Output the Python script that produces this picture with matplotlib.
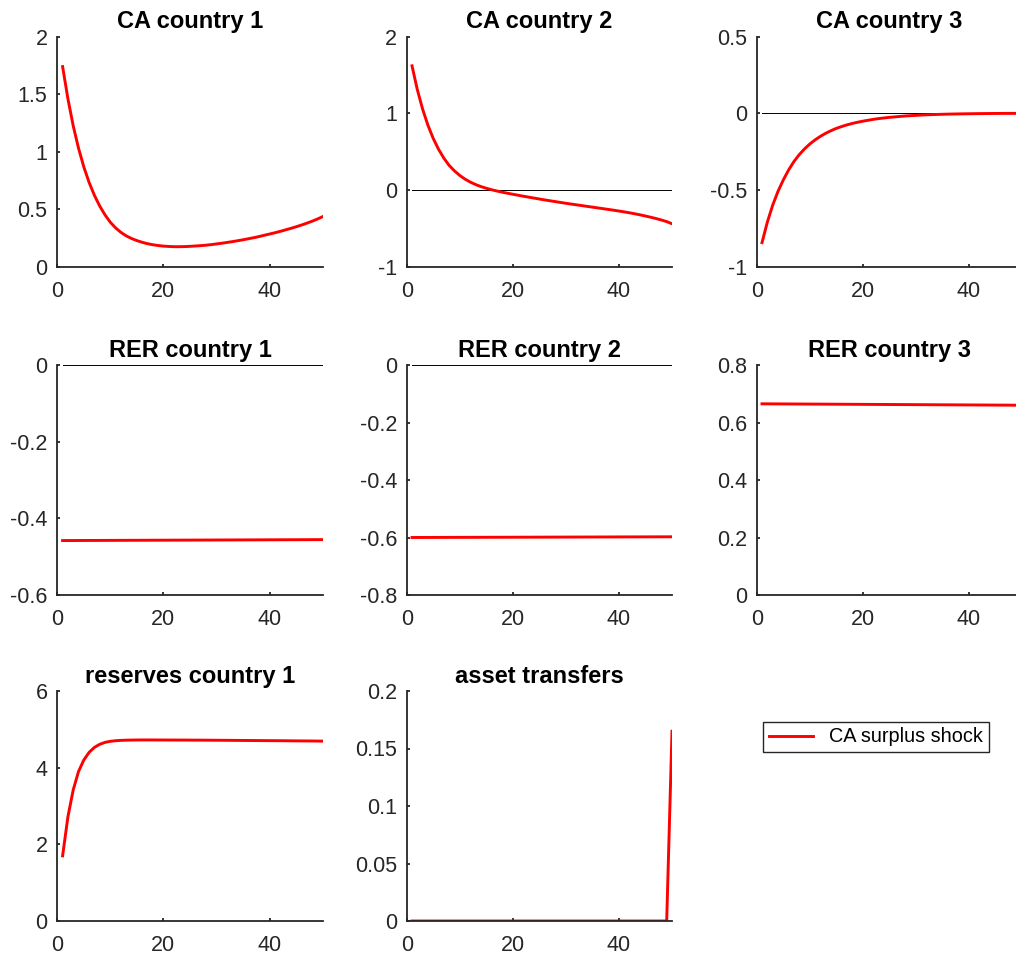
import numpy as np
import matplotlib
matplotlib.use('Agg')
import matplotlib.pyplot as plt
from matplotlib.ticker import FuncFormatter

# impulse responses, periods 1..50
periods = list(range(1, 51))

ca1 = [1.74, 1.46, 1.225, 1.03, 0.867, 0.732, 0.62, 0.527, 0.45, 0.386,
       0.337, 0.298, 0.268, 0.245, 0.227, 0.212, 0.200, 0.191, 0.184, 0.179,
       0.176, 0.174, 0.174, 0.175, 0.177, 0.180, 0.183, 0.187, 0.192, 0.198,
       0.204, 0.211, 0.218, 0.226, 0.234, 0.243, 0.252, 0.262, 0.273, 0.284,
       0.295, 0.307, 0.320, 0.333, 0.347, 0.362, 0.378, 0.395, 0.414, 0.435]

ca2 = [1.62, 1.31, 1.055, 0.845, 0.673, 0.532, 0.416, 0.321, 0.250, 0.190,
       0.142, 0.103, 0.071, 0.045, 0.023, 0.004, -0.013, -0.028, -0.042, -0.055,
       -0.068, -0.081, -0.093, -0.105, -0.117, -0.129, -0.140, -0.151, -0.162, -0.173,
       -0.183, -0.193, -0.203, -0.213, -0.223, -0.233, -0.243, -0.253, -0.263, -0.274,
       -0.285, -0.297, -0.310, -0.324, -0.339, -0.355, -0.372, -0.391, -0.412, -0.440]

ca3 = [-0.843, -0.71, -0.60, -0.51, -0.435, -0.37, -0.315, -0.27, -0.232, -0.200,
       -0.173, -0.150, -0.130, -0.113, -0.098, -0.086, -0.075, -0.066, -0.058, -0.051,
       -0.045, -0.039, -0.034, -0.030, -0.026, -0.023, -0.020, -0.017, -0.015, -0.013,
       -0.011, -0.0095, -0.008, -0.007, -0.006, -0.005, -0.0043, -0.0036, -0.003, -0.0025,
       -0.002, -0.0016, -0.0012, -0.0009, -0.0006, -0.0004, -0.0002, -0.0001, 0.0, 0.0]

rer1 = [-0.4580, -0.4579, -0.4579, -0.4578, -0.4578, -0.4577, -0.4577, -0.4576, -0.4576, -0.4575,
        -0.4575, -0.4574, -0.4574, -0.4573, -0.4573, -0.4572, -0.4572, -0.4571, -0.4571, -0.4570,
        -0.4570, -0.4569, -0.4569, -0.4568, -0.4568, -0.4567, -0.4567, -0.4566, -0.4566, -0.4565,
        -0.4565, -0.4564, -0.4564, -0.4563, -0.4563, -0.4562, -0.4562, -0.4561, -0.4561, -0.4560,
        -0.4560, -0.4559, -0.4559, -0.4558, -0.4558, -0.4557, -0.4557, -0.4556, -0.4556, -0.4555]

rer2 = [-0.6000, -0.5999, -0.5999, -0.5998, -0.5998, -0.5997, -0.5997, -0.5996, -0.5996, -0.5995,
        -0.5995, -0.5994, -0.5994, -0.5993, -0.5993, -0.5992, -0.5992, -0.5991, -0.5991, -0.5990,
        -0.5990, -0.5989, -0.5989, -0.5988, -0.5988, -0.5987, -0.5987, -0.5986, -0.5986, -0.5985,
        -0.5985, -0.5984, -0.5984, -0.5983, -0.5983, -0.5982, -0.5982, -0.5981, -0.5981, -0.5980,
        -0.5980, -0.5979, -0.5979, -0.5978, -0.5978, -0.5977, -0.5977, -0.5976, -0.5976, -0.5975]

rer3 = [0.6650, 0.6649, 0.6648, 0.6647, 0.6646, 0.6645, 0.6644, 0.6643, 0.6642, 0.6641,
        0.6640, 0.6639, 0.6638, 0.6637, 0.6636, 0.6635, 0.6634, 0.6633, 0.6632, 0.6631,
        0.6630, 0.6629, 0.6628, 0.6627, 0.6626, 0.6625, 0.6624, 0.6623, 0.6622, 0.6621,
        0.6620, 0.6619, 0.6618, 0.6617, 0.6616, 0.6615, 0.6614, 0.6613, 0.6612, 0.6611,
        0.6610, 0.6609, 0.6608, 0.6607, 0.6606, 0.6605, 0.6604, 0.6603, 0.6602, 0.6601]

reserves1 = [1.70, 2.72, 3.42, 3.90, 4.20, 4.40, 4.53, 4.61, 4.66, 4.688,
             4.703, 4.712, 4.717, 4.720, 4.722, 4.723, 4.723, 4.723, 4.722, 4.722,
             4.721, 4.721, 4.720, 4.720, 4.719, 4.718, 4.718, 4.717, 4.716, 4.715,
             4.714, 4.713, 4.712, 4.711, 4.710, 4.709, 4.708, 4.707, 4.706, 4.705,
             4.704, 4.703, 4.702, 4.700, 4.699, 4.698, 4.697, 4.696, 4.694, 4.693]

transfers = [0.0] * 49 + [0.165]

titles = ['CA country 1', 'CA country 2', 'CA country 3',
          'RER country 1', 'RER country 2', 'RER country 3',
          'reserves country 1', 'asset transfers']
series = [ca1, ca2, ca3, rer1, rer2, rer3, reserves1, transfers]
ylims = [(0, 2), (-1, 2), (-1, 0.5), (-0.6, 0), (-0.8, 0), (0, 0.8), (0, 6), (0, 0.2)]
yticks = [[0, 0.5, 1, 1.5, 2], [-1, 0, 1, 2], [-1, -0.5, 0, 0.5],
          [-0.6, -0.4, -0.2, 0], [-0.8, -0.6, -0.4, -0.2, 0], [0, 0.2, 0.4, 0.6, 0.8],
          [0, 2, 4, 6], [0, 0.05, 0.1, 0.15, 0.2]]
legend_label = 'CA surplus shock'

plt.rcParams['font.family'] = ['Liberation Sans', 'DejaVu Sans']
plt.rcParams['axes.unicode_minus'] = False

W, H = 1016, 958
fig = plt.figure(figsize=(W / 100, H / 100), dpi=100)

# axes boxes in pixels (left, top) - MATLAB subplot grid, third column runs off the edge
lefts = [57.3, 406.7, 756.7]
tops = [36.7, 365, 691]
aw, ah = 265.3, 230
axc = '#262626'

for i, (title, y) in enumerate(zip(titles, series)):
    r, c = divmod(i, 3)
    ax = fig.add_axes([lefts[c] / W, 1 - (tops[r] + ah) / H, aw / W, ah / H])
    ax.plot(periods, np.zeros(len(periods)), color='k', lw=0.7)
    line, = ax.plot(periods, y, color='r', lw=2.1, label=legend_label)
    ax.set_xlim(0, 50)
    ax.set_ylim(*ylims[i])
    ax.set_xticks([0, 20, 40])
    ax.set_yticks(yticks[i])
    ax.yaxis.set_major_formatter(FuncFormatter(lambda v, p: '%g' % v))
    ax.set_title(title, fontsize=17, fontweight='bold', pad=6)
    for s in ['top', 'right']:
        ax.spines[s].set_visible(False)
    for s in ['left', 'bottom']:
        ax.spines[s].set_color(axc)
        ax.spines[s].set_linewidth(1.3)
    ax.tick_params(direction='in', length=2.5, width=1.3, colors=axc, labelsize=15.5)
    ax.tick_params(axis='x', pad=10)
    ax.tick_params(axis='y', pad=7)

fig.legend(handles=[line], labels=[legend_label], loc='center',
           bbox_to_anchor=(876 / W, 1 - 737 / H), fontsize=14.3, fancybox=False,
           edgecolor=axc, framealpha=1, handlelength=2.2, borderpad=0.3)

fig.savefig('out.png', dpi=100)
